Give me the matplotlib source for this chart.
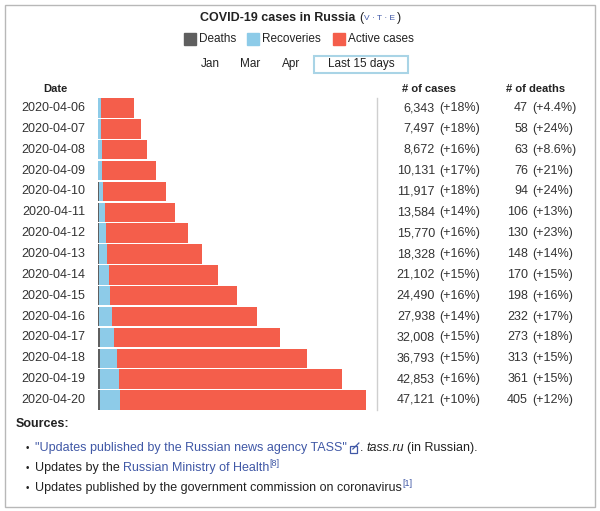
import matplotlib
matplotlib.use("Agg")
import matplotlib.pyplot as plt
import matplotlib.patches as mpatches
import matplotlib.transforms as mtransforms
from matplotlib.lines import Line2D

plt.rcParams['font.family'] = ['Liberation Sans', 'DejaVu Sans']

# data
dates = ["2020-04-06", "2020-04-07", "2020-04-08", "2020-04-09", "2020-04-10",
         "2020-04-11", "2020-04-12", "2020-04-13", "2020-04-14", "2020-04-15",
         "2020-04-16", "2020-04-17", "2020-04-18", "2020-04-19", "2020-04-20"]
cases = [6343, 7497, 8672, 10131, 11917, 13584, 15770, 18328, 21102, 24490,
         27938, 32008, 36793, 42853, 47121]
deaths = [47, 58, 63, 76, 94, 106, 130, 148, 170, 198, 232, 273, 313, 361, 405]
recoveries = [406, 494, 580, 698, 795, 1045, 1291, 1470, 1694, 1986,
              2304, 2590, 3057, 3291, 3511]
cases_pct = ["+18%", "+18%", "+16%", "+17%", "+18%", "+14%", "+16%", "+16%",
             "+15%", "+16%", "+14%", "+15%", "+15%", "+16%", "+10%"]
deaths_pct = ["+4.4%", "+24%", "+8.6%", "+21%", "+24%", "+13%", "+23%", "+14%",
              "+15%", "+16%", "+17%", "+18%", "+15%", "+15%", "+12%"]
active = [c - d - r for c, d, r in zip(cases, deaths, recoveries)]

W, H = 600, 511
C_DEATH = "#5f5f5f"
C_REC = "#8dcbe8"
C_ACT = "#f45e4b"
C_LINK = "#4058a6"
C_TXT = "#222222"

fig = plt.figure(figsize=(W / 100, H / 100), dpi=100)
fig.patch.set_facecolor("white")


def fx(x):
    return x / W


def fy(y):
    return 1 - y / H


# outer border
fig.add_artist(mpatches.Rectangle((fx(5), fy(507)), fx(590), 502 / H,
                                  transform=fig.transFigure, fill=False,
                                  edgecolor="#b8b8b8", lw=1))

# bar axes
top, bot = 97.6, 410.4
ax = fig.add_axes([fx(98), fy(bot), fx(377) - fx(98), (bot - top) / H])
y = list(range(len(dates)))
ax.barh(y, deaths, height=0.93, color=C_DEATH)
ax.barh(y, recoveries, left=deaths, height=0.93, color=C_REC)
ax.barh(y, active, left=[d + r for d, r in zip(deaths, recoveries)],
        height=0.93, color=C_ACT)
ax.set_xlim(0, 49055)
ax.set_ylim(len(dates) - 0.5, -0.5)
ax.set_xticks([])
ax.set_yticks([])
for s in ["top", "bottom", "left"]:
    ax.spines[s].set_visible(False)
ax.spines["right"].set_color("#cfcfcf")
ax.spines["right"].set_linewidth(1)

tr = mtransforms.blended_transform_factory(fig.transFigure, ax.transData)
for i in range(len(dates)):
    ax.text(fx(85), i, dates[i], transform=tr, ha="right", va="center",
            fontsize=9, color="#333333")
    ax.text(fx(435), i, f"{cases[i]:,}", transform=tr, ha="right",
            va="center", fontsize=9, color="#333333")
    ax.text(fx(439), i, f"({cases_pct[i]})", transform=tr, ha="left",
            va="center", fontsize=9, color="#333333")
    ax.text(fx(528), i, f"{deaths[i]:,}", transform=tr, ha="right",
            va="center", fontsize=9, color="#333333")
    ax.text(fx(532), i, f"({deaths_pct[i]})", transform=tr, ha="left",
            va="center", fontsize=9, color="#333333")

# headers
fig.text(fx(55), fy(89), "Date", ha="center", va="center", fontsize=8,
         fontweight="bold", color=C_TXT)
fig.text(fx(429), fy(89), "# of cases", ha="center", va="center", fontsize=8,
         fontweight="bold", color=C_TXT)
fig.text(fx(536), fy(89), "# of deaths", ha="center", va="center", fontsize=8,
         fontweight="bold", color=C_TXT)

renderer = fig.canvas.get_renderer()


def run_text(x, yy, parts):
    # parts: (string, style dict, gap after, y offset)
    for s, style, gap, dy in parts:
        t = fig.text(fx(x), fy(yy + dy), s, ha="left", va="center", **style)
        x += t.get_window_extent(renderer).width + gap
    return x


# title
run_text(200, 18, [
    ("COVID-19 cases in Russia", dict(fontsize=9, fontweight="bold", color=C_TXT), 4, 0),
    ("(", dict(fontsize=9, color=C_TXT), 1, 0),
    ("V · T · E", dict(fontsize=6, color=C_LINK), 1, 0.5),
    (")", dict(fontsize=9, color=C_TXT), 0, 0),
])

# legend
for x0, c, lab in [(184, C_DEATH, "Deaths"), (247, C_REC, "Recoveries"),
                   (333, C_ACT, "Active cases")]:
    fig.add_artist(mpatches.Rectangle((fx(x0), fy(45)), fx(12), 12 / H,
                                      transform=fig.transFigure, color=c))
    fig.text(fx(x0 + 15), fy(39), lab, ha="left", va="center",
             fontsize=8.5, color=C_TXT)

# range buttons
for xc, lab in [(210, "Jan"), (250, "Mar"), (291, "Apr")]:
    fig.text(fx(xc), fy(64), lab, ha="center", va="center", fontsize=8.5,
             color=C_TXT)
fig.add_artist(mpatches.Rectangle((fx(314), fy(73)), fx(94), 17 / H,
                                  transform=fig.transFigure, fill=False,
                                  edgecolor="#a9d4e6", lw=1.5))
fig.text(fx(361), fy(64), "Last 15 days", ha="center", va="center",
         fontsize=8.5, color=C_TXT)

# sources
fig.text(fx(16), fy(424), "Sources:", ha="left", va="center", fontsize=9,
         fontweight="bold", color=C_TXT)
norm = dict(fontsize=9, color=C_TXT)
link = dict(fontsize=9, color=C_LINK)
sup = dict(fontsize=6.5, color=C_LINK)
for yy in [448, 468, 488]:
    fig.text(fx(27), fy(yy), "•", ha="center", va="center", fontsize=7,
             color=C_TXT)

xe = run_text(35, 448, [
    ('"Updates published by the Russian news agency TASS"', link, 3, 0),
])
# external link icon
fig.add_artist(mpatches.Rectangle((fx(xe), fy(453)), fx(7), 7 / H,
                                  transform=fig.transFigure, fill=False,
                                  edgecolor=C_LINK, lw=0.9))
fig.add_artist(Line2D([fx(xe + 3), fx(xe + 9)], [fy(449), fy(443)],
                      transform=fig.transFigure, color=C_LINK, lw=0.9))
run_text(xe + 10, 448, [
    (".", norm, 3, 0),
    ("tass.ru", dict(fontsize=9, color=C_TXT, style="italic"), 3, 0),
    ("(in Russian).", norm, 0, 0),
])
run_text(35, 468, [
    ("Updates by the", norm, 3, 0),
    ("Russian Ministry of Health", link, 0.5, 0),
    ("[8]", sup, 0, -4),
])
run_text(35, 488, [
    ("Updates published by the government commission on coronavirus", norm, 0.5, 0),
    ("[1]", sup, 0, -4),
])

fig.savefig("out.png", dpi=100, facecolor="white")
